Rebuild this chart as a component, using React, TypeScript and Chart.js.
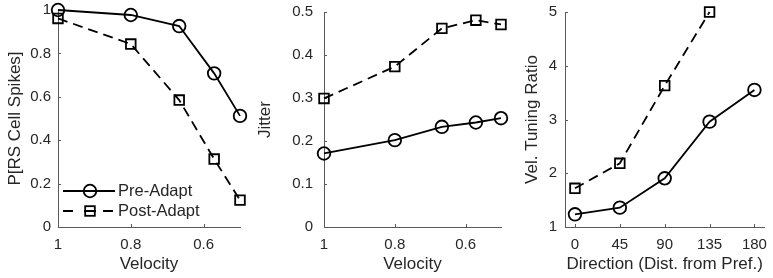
import React, { useEffect, useRef } from "react";
import { Chart, registerables } from "chart.js";

Chart.register(...registerables);

// ---------- data ----------
const velocities = [1, 0.8, 0.667, 0.571, 0.5];
const spikesPre = [1.0, 0.977, 0.926, 0.708, 0.512];
const spikesPost = [0.961, 0.843, 0.585, 0.313, 0.124];
const jitterPre = [0.171, 0.202, 0.233, 0.243, 0.253];
const jitterPost = [0.299, 0.373, 0.462, 0.481, 0.471];
const directions = [0, 45, 90, 135, 180];
const ratioPre = [1.236, 1.36, 1.906, 2.96, 3.55];
const ratioPost = [1.72, 2.185, 3.63, 5.0];
const velocityTicks = [1, 0.8, 0.6];
const directionTicks = [0, 45, 90, 135, 180];
const seriesLabels = ["Pre-Adapt", "Post-Adapt"];

// ---------- style ----------
const FONT = "'Liberation Sans', Arial, Helvetica, sans-serif";
const TEXT = "#262626";
const AXIS = "#5a5a5a";
const TICK_SIZE = 15;
const TITLE_SIZE = 17;
const LEGEND_SIZE = 16.5;
const LINE_W = 1.8;
const DASH = [10, 6];
const CIRCLE_R = 6.3;
const RECT_R = 6.8;

type PanelSpec = {
  left: number;
  width: number;
  xs: number[];
  pre: number[];
  post: number[];
  xMin: number;
  xMax: number;
  reverse: boolean;
  xTicks: number[];
  yMin: number;
  yMax: number;
  yStep: number;
  xTitle: string;
  yTitle: string;
  yAxisWidth: number;
  padTop: number;
  padRight: number;
  yTickPad: number;
  yTitlePad: number;
  legend: boolean;
};

const fmt = (v: number) => String(Number(Number(v).toFixed(3)));

const inwardTicks = {
  id: "inwardTicks",
  beforeDatasetsDraw(chart: any) {
    const { ctx, chartArea, scales } = chart;
    ctx.save();
    ctx.strokeStyle = AXIS;
    ctx.lineWidth = 1;
    const xs = scales.x;
    const ys = scales.y;
    xs.ticks.forEach((t: any) => {
      const px = Math.round(xs.getPixelForValue(t.value)) + 0.5;
      ctx.beginPath();
      ctx.moveTo(px, chartArea.bottom);
      ctx.lineTo(px, chartArea.bottom - 3);
      ctx.stroke();
    });
    ys.ticks.forEach((t: any) => {
      const py = Math.round(ys.getPixelForValue(t.value)) + 0.5;
      ctx.beginPath();
      ctx.moveTo(chartArea.left, py);
      ctx.lineTo(chartArea.left + 3, py);
      ctx.stroke();
    });
    ctx.restore();
  },
};

const inlineLegend = {
  id: "inlineLegend",
  afterDraw(chart: any, _args: any, opts: any) {
    if (!opts || !opts.show) return;
    const { ctx, chartArea } = chart;
    const x0 = chartArea.left + 5;
    const x1 = chartArea.left + 57;
    const xm = chartArea.left + 32;
    const tx = chartArea.left + 60;
    const rows = [chartArea.bottom - 36, chartArea.bottom - 16];
    ctx.save();
    ctx.strokeStyle = "#000";
    ctx.lineWidth = LINE_W;
    // Pre row
    let y = rows[0];
    ctx.beginPath();
    ctx.moveTo(x0, y);
    ctx.lineTo(x1, y);
    ctx.stroke();
    ctx.beginPath();
    ctx.arc(xm, y, CIRCLE_R, 0, Math.PI * 2);
    ctx.stroke();
    // Post row
    y = rows[1];
    ctx.beginPath();
    ctx.moveTo(x0, y);
    ctx.lineTo(x0 + 10, y);
    ctx.moveTo(xm - 6, y);
    ctx.lineTo(xm + 6, y);
    ctx.moveTo(x1 - 12, y);
    ctx.lineTo(x1 - 2, y);
    ctx.stroke();
    const s = RECT_R * Math.SQRT1_2;
    ctx.strokeRect(xm - s, y - s, 2 * s, 2 * s);
    ctx.fillStyle = TEXT;
    ctx.font = `${LEGEND_SIZE}px ${FONT}`;
    ctx.textBaseline = "middle";
    ctx.textAlign = "left";
    ctx.fillText(seriesLabels[0], tx, rows[0]);
    ctx.fillText(seriesLabels[1], tx, rows[1]);
    ctx.restore();
  },
};

function buildConfig(p: PanelSpec): any {
  const toPts = (ys: number[]) => ys.map((v, i) => ({ x: p.xs[i], y: v }));
  return {
    type: "line",
    data: {
      datasets: [
        {
          label: seriesLabels[0],
          data: toPts(p.pre),
          borderColor: "#000",
          borderWidth: LINE_W,
          pointStyle: "circle",
          pointRadius: CIRCLE_R,
          pointBorderWidth: LINE_W,
          pointBorderColor: "#000",
          pointBackgroundColor: "rgba(0,0,0,0)",
          tension: 0,
          fill: false,
          clip: false,
        },
        {
          label: seriesLabels[1],
          data: toPts(p.post),
          borderColor: "#000",
          borderWidth: LINE_W,
          borderDash: DASH,
          pointStyle: "rect",
          pointRadius: RECT_R,
          pointBorderWidth: LINE_W,
          pointBorderColor: "#000",
          pointBackgroundColor: "rgba(0,0,0,0)",
          tension: 0,
          fill: false,
          clip: false,
        },
      ],
    },
    options: {
      animation: false,
      responsive: false,
      devicePixelRatio: 1,
      events: [],
      layout: { padding: { left: 0, top: p.padTop, right: p.padRight, bottom: 0 } },
      plugins: {
        legend: { display: false },
        tooltip: { enabled: false },
        inlineLegend: { show: p.legend },
      },
      scales: {
        x: {
          type: "linear",
          min: p.xMin,
          max: p.xMax,
          reverse: p.reverse,
          grid: { drawOnChartArea: false, drawTicks: false },
          border: { display: true, color: AXIS, width: 1 },
          ticks: {
            color: TEXT,
            padding: 9,
            autoSkip: false,
            maxRotation: 0,
            font: { family: FONT, size: TICK_SIZE },
            callback: (v: any) => fmt(v),
          },
          afterBuildTicks: (axis: any) => {
            axis.ticks = p.xTicks.map((v) => ({ value: v }));
          },
          afterFit: (axis: any) => {
            axis.height = 51;
            axis.paddingLeft = 0;
            axis.paddingRight = 0;
            axis.paddingTop = 0;
            axis.paddingBottom = 0;
          },
          title: {
            display: true,
            text: p.xTitle,
            color: TEXT,
            padding: 3,
            font: { family: FONT, size: TITLE_SIZE },
          },
        },
        y: {
          type: "linear",
          min: p.yMin,
          max: p.yMax,
          grid: { drawOnChartArea: false, drawTicks: false },
          border: { display: true, color: AXIS, width: 1 },
          ticks: {
            color: TEXT,
            padding: p.yTickPad,
            stepSize: p.yStep,
            autoSkip: false,
            font: { family: FONT, size: TICK_SIZE },
            callback: (v: any) => fmt(v),
          },
          afterFit: (axis: any) => {
            axis.width = p.yAxisWidth;
            axis.paddingLeft = 0;
            axis.paddingRight = 0;
            axis.paddingTop = 0;
            axis.paddingBottom = 0;
          },
          title: {
            display: true,
            text: p.yTitle,
            color: TEXT,
            padding: p.yTitlePad,
            font: { family: FONT, size: TITLE_SIZE },
          },
        },
      },
    },
    plugins: [inwardTicks, inlineLegend],
  };
}

const panels: PanelSpec[] = [
  {
    left: 0, width: 250, xs: velocities, pre: spikesPre, post: spikesPost,
    xMin: 0.5, xMax: 1, reverse: true, xTicks: velocityTicks,
    yMin: 0, yMax: 1, yStep: 0.2,
    xTitle: "Velocity", yTitle: "P[RS Cell Spikes]",
    yAxisWidth: 58, padTop: 10, padRight: 10, yTickPad: 7, yTitlePad: 5.3, legend: true,
  },
  {
    left: 250, width: 260, xs: velocities, pre: jitterPre, post: jitterPost,
    xMin: 0.5, xMax: 1, reverse: true, xTicks: velocityTicks,
    yMin: 0, yMax: 0.5, yStep: 0.1,
    xTitle: "Velocity", yTitle: "Jitter",
    yAxisWidth: 74, padTop: 12, padRight: 9, yTickPad: 11, yTitlePad: 5.3, legend: false,
  },
  {
    left: 510, width: 263, xs: directions, pre: ratioPre, post: ratioPost,
    xMin: -10, xMax: 190, reverse: false, xTicks: directionTicks,
    yMin: 1, yMax: 5, yStep: 1,
    xTitle: "Direction (Dist. from Pref.)", yTitle: "Vel. Tuning Ratio",
    yAxisWidth: 55, padTop: 12, padRight: 5, yTickPad: 8, yTitlePad: 11.8, legend: false,
  },
];

function PanelChart({ spec }: { spec: PanelSpec }) {
  const ref = useRef<HTMLCanvasElement | null>(null);
  useEffect(() => {
    if (!ref.current) return;
    const chart = new Chart(ref.current, buildConfig(spec));
    return () => chart.destroy();
  }, [spec]);
  return (
    <canvas
      ref={ref}
      width={spec.width}
      height={278}
      style={{ position: "absolute", left: spec.left, top: 0, width: spec.width, height: 278 }}
    />
  );
}

export default function App() {
  return (
    <div style={{ position: "absolute", left: 0, top: 0, width: 773, height: 278, background: "#fff" }}>
      {panels.map((p, i) => (
        <PanelChart key={i} spec={p} />
      ))}
    </div>
  );
}
